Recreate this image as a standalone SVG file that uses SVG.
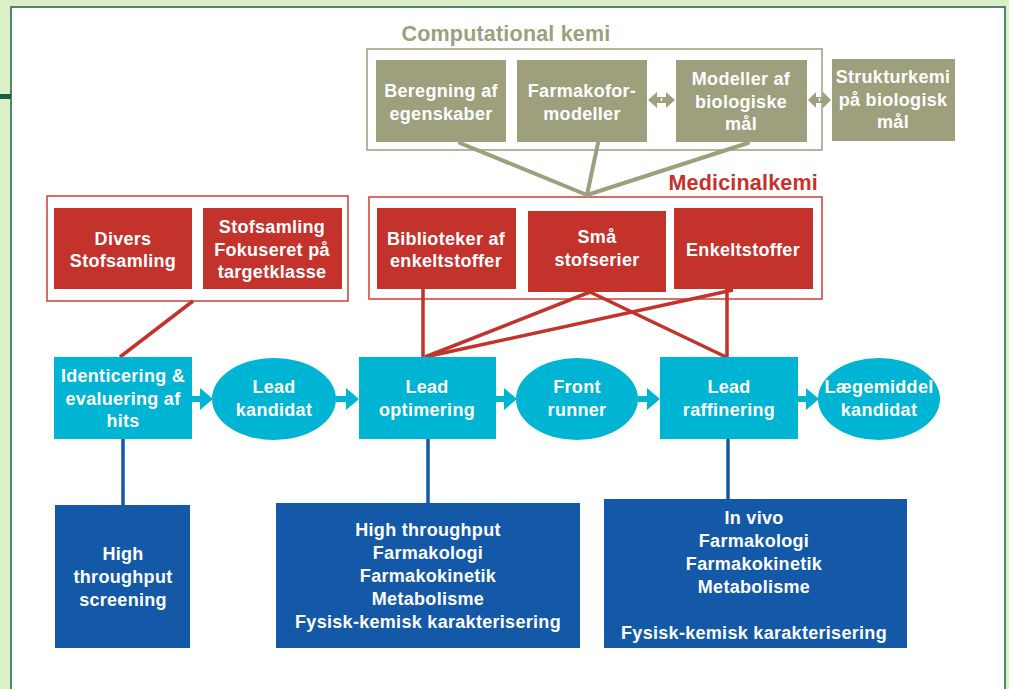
<svg xmlns="http://www.w3.org/2000/svg" width="1009" height="689" viewBox="0 0 1009 689">
<style>
.t{font-family:"Liberation Sans",Arial,Helvetica,sans-serif;font-weight:bold;font-size:18px;fill:#ffffff;text-anchor:middle;letter-spacing:0.3px}
.olive{fill:#9d9f7d}
.red{fill:#c4322c}
.cyan{fill:#00b4d3}
.blue{fill:#1459a8}
.hdr{font-family:"Liberation Sans",Arial,Helvetica,sans-serif;font-weight:bold;font-size:21.5px;letter-spacing:0.2px}
</style>
<rect x="0" y="0" width="1009" height="689" fill="#dcf0c8"/>
<rect x="11" y="7" width="994" height="700" fill="#ffffff" stroke="#2a6a50" stroke-width="1.6"/>
<rect x="0" y="94" width="11" height="5" fill="#1b5e48"/>

<text class="hdr" x="506" y="41" text-anchor="middle" fill="#9d9f7d">Computational kemi</text>
<text class="hdr" x="818" y="190" text-anchor="end" fill="#c4322c">Medicinalkemi</text>

<g id="frames" fill="none" stroke-width="1.6">
<rect x="367" y="49" width="455" height="101" stroke="#a2a483"/>
<rect x="47" y="196" width="301" height="105" stroke="#cf4a44"/>
<rect x="369" y="197" width="453" height="102" stroke="#cf4a44"/>
</g>

<g id="connectors">
<g stroke="#9d9f7d" stroke-width="4" fill="none" stroke-linecap="round">
<line x1="460" y1="143" x2="587" y2="195"/>
<line x1="598" y1="143" x2="587" y2="195"/>
<line x1="748" y1="143" x2="587" y2="195"/>
</g>
<g stroke="#c4322c" stroke-width="3.5" fill="none">
<line x1="193" y1="301" x2="120" y2="357"/>
<line x1="423" y1="289" x2="423" y2="357"/>
<line x1="590" y1="292" x2="425" y2="357"/>
<line x1="590" y1="292" x2="726" y2="357"/>
<line x1="727" y1="289" x2="727" y2="357"/>
<line x1="733" y1="290" x2="425" y2="357"/>
</g>
<g stroke="#1459a8" stroke-width="3.5" fill="none">
<line x1="123" y1="439" x2="123" y2="506"/>
<line x1="428" y1="439" x2="428" y2="504"/>
<line x1="728" y1="439" x2="728" y2="500"/>
</g>
<g class="cyan">
<polygon points="192,396 200,396 200,388 213,399 200,410 200,402 192,402"/>
<polygon points="336,396 346,396 346,388 359,399 346,410 346,402 336,402"/>
<polygon points="496,396 504,396 504,388 517,399 504,410 504,402 496,402"/>
<polygon points="638,396 647,396 647,388 660,399 647,410 647,402 638,402"/>
<polygon points="798,396 806,396 806,388 819,399 806,410 806,402 798,402"/>
</g>
<g class="olive">
<polygon points="648,100 657,92 657,97 666,97 666,92 675,100 666,108 666,103 657,103 657,108"/>
<polygon points="808,100 816,92 816,97 823,97 823,92 831,100 823,108 823,103 816,103 816,108"/>
</g>
<g stroke="#ffffff" stroke-width="1.5" stroke-dasharray="3,3">
<line x1="661.5" y1="92" x2="661.5" y2="108"/>
<line x1="819.5" y1="92" x2="819.5" y2="108"/>
</g>
</g>

<g id="beregning"><rect class="olive" x="376" y="60" width="130" height="82"/><text class="t" x="441" y="97">Beregning af</text><text class="t" x="441" y="120">egenskaber</text></g>
<g id="farmakofor"><rect class="olive" x="517" y="60" width="130" height="82"/><text class="t" x="582" y="97">Farmakofor-</text><text class="t" x="582" y="120">modeller</text></g>
<g id="modeller"><rect class="olive" x="676" y="60" width="131" height="82"/><text class="t" x="741" y="85">Modeller af</text><text class="t" x="741" y="108">biologiske</text><text class="t" x="741" y="130">mål</text></g>
<g id="strukturkemi"><rect class="olive" x="832" y="59" width="123" height="82"/><text class="t" x="893" y="83">Strukturkemi</text><text class="t" x="893" y="106">på biologisk</text><text class="t" x="893" y="128">mål</text></g>

<g id="divers"><rect class="red" x="54" y="208" width="138" height="81"/><text class="t" x="123" y="245">Divers</text><text class="t" x="123" y="267">Stofsamling</text></g>
<g id="fokuseret"><rect class="red" x="203" y="208" width="139" height="81"/><text class="t" x="272" y="233">Stofsamling</text><text class="t" x="272" y="256">Fokuseret på</text><text class="t" x="272" y="278">targetklasse</text></g>
<g id="biblioteker"><rect class="red" x="377" y="208" width="139" height="81"/><text class="t" x="446" y="245">Biblioteker af</text><text class="t" x="446" y="267">enkeltstoffer</text></g>
<g id="smaa"><rect class="red" x="528" y="211" width="138" height="81"/><text class="t" x="597" y="243">Små</text><text class="t" x="597" y="266">stofserier</text></g>
<g id="enkeltstoffer"><rect class="red" x="674" y="208" width="139" height="81"/><text class="t" x="743" y="256">Enkeltstoffer</text></g>

<g id="identicering"><rect class="cyan" x="54" y="357" width="138" height="82"/><text class="t" x="123" y="382">Identicering &amp;</text><text class="t" x="123" y="405">evaluering af</text><text class="t" x="123" y="427">hits</text></g>
<g id="leadkandidat"><ellipse class="cyan" cx="274" cy="399" rx="62" ry="41"/><text class="t" x="274" y="393">Lead</text><text class="t" x="274" y="416">kandidat</text></g>
<g id="leadoptimering"><rect class="cyan" x="359" y="357" width="137" height="82"/><text class="t" x="427" y="393">Lead</text><text class="t" x="427" y="416">optimering</text></g>
<g id="frontrunner"><ellipse class="cyan" cx="577" cy="399" rx="61" ry="41"/><text class="t" x="577" y="393">Front</text><text class="t" x="577" y="416">runner</text></g>
<g id="leadraffinering"><rect class="cyan" x="660" y="357" width="138" height="82"/><text class="t" x="729" y="393">Lead</text><text class="t" x="729" y="416">raffinering</text></g>
<g id="laegemiddel"><ellipse class="cyan" cx="879" cy="399" rx="61" ry="41"/><text class="t" x="879" y="393">Lægemiddel</text><text class="t" x="879" y="416">kandidat</text></g>

<g id="hts"><rect class="blue" x="55" y="505" width="135" height="143"/><text class="t" x="123" y="560">High</text><text class="t" x="123" y="583">throughput</text><text class="t" x="123" y="606">screening</text></g>
<g id="mid"><rect class="blue" x="276" y="503" width="304" height="145"/><text class="t" x="428" y="536">High throughput</text><text class="t" x="428" y="559">Farmakologi</text><text class="t" x="428" y="582">Farmakokinetik</text><text class="t" x="428" y="605">Metabolisme</text><text class="t" x="428" y="628">Fysisk-kemisk karakterisering</text></g>
<g id="invivo"><rect class="blue" x="604" y="499" width="303" height="149"/><text class="t" x="754" y="524">In vivo</text><text class="t" x="754" y="547">Farmakologi</text><text class="t" x="754" y="570">Farmakokinetik</text><text class="t" x="754" y="593">Metabolisme</text><text class="t" x="754" y="639">Fysisk-kemisk karakterisering</text></g>
</svg>
